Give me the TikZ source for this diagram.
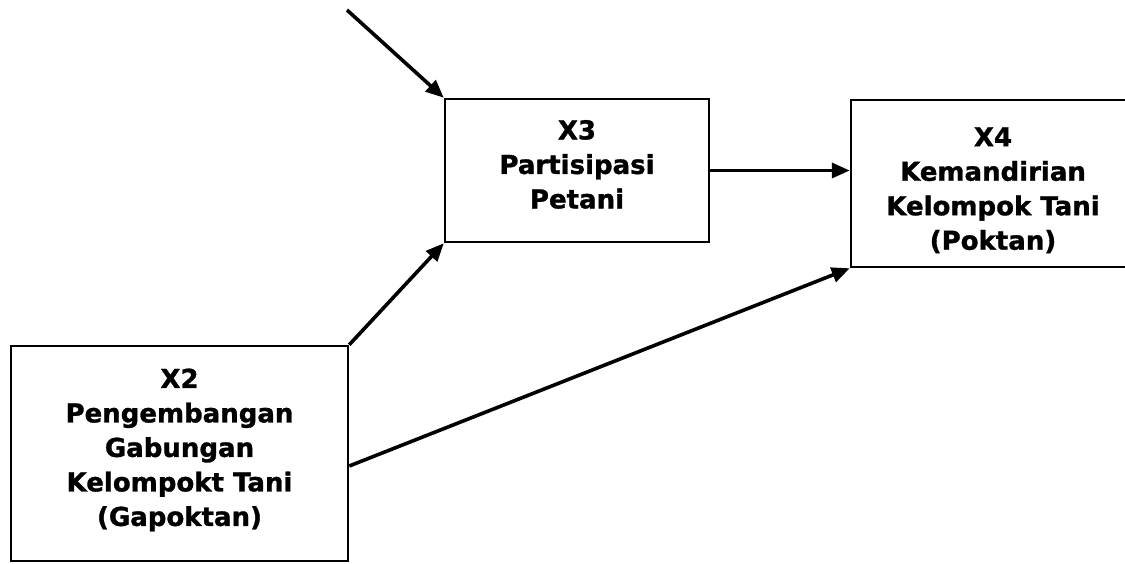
\documentclass[tikz,border=0pt]{standalone}
\usepackage{fontspec}
\setmainfont{DejaVu Sans}[BoldFeatures={FakeBold=1.2}]
\usetikzlibrary{arrows.meta}
\usetikzlibrary{positioning}

\tikzset{
  varbox/.style={draw=black,line width=2.5pt,align=center,inner sep=0pt,
    font=\fontsize{26}{34.5}\selectfont\bfseries},
  conn/.style={line width=3.6pt,-{Triangle[length=18pt,width=15pt]}}
}

\begin{document}
\begin{tikzpicture}[x=1pt,y=-1pt]
\useasboundingbox[fill=white] (0,0) rectangle (1125,563);

\node[varbox,minimum width=264,minimum height=143] (X3) at (577,170.5) {X3\\Partisipasi\\Petani\\[-22pt]};
\node[varbox,minimum width=284,minimum height=167] (X4) at (993,183.5) {X4\\Kemandirian\\Kelompok Tani\\(Poktan)\\[-44.5pt]};
\node[varbox,minimum width=337,minimum height=215] (X2) at (179.5,453.5) {X2\\Pengembangan\\Gabungan\\Kelompokt Tani\\(Gapoktan)\\[-22pt]};

\coordinate (e3) at (347,10);

\draw[conn] (e3) -- (X3.north west);
\draw[conn] (X2.north east) -- (X3.south west);
\draw[conn] (X3.east) -- (X3.east -| X4.west);
\draw[conn] ([yshift=-12.5pt]X2.east) -- (X4.south west);

\end{tikzpicture}
\end{document}
